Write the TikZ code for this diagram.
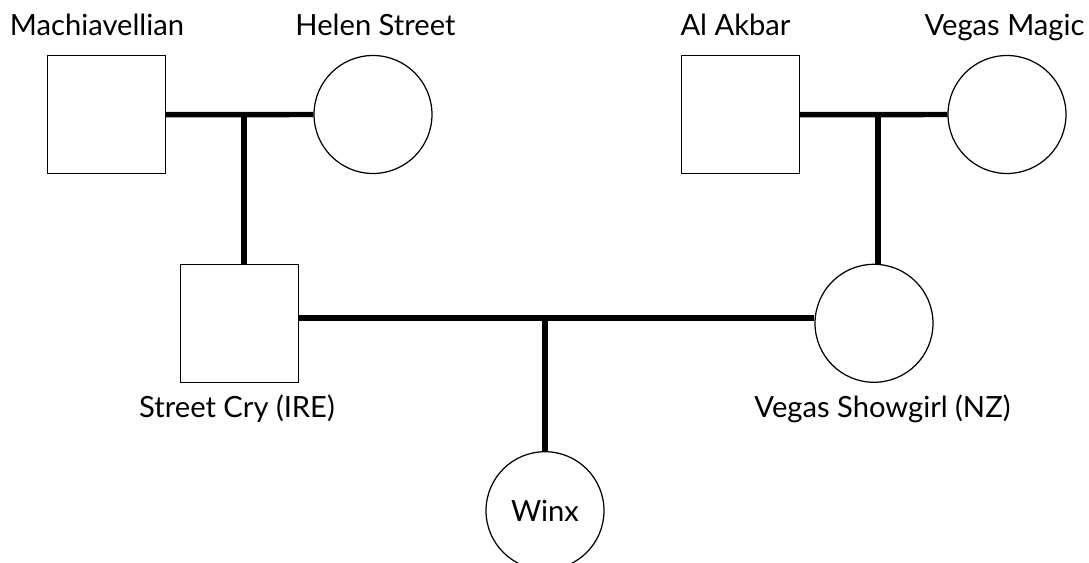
\documentclass[tikz,border=0pt]{standalone}
\usepackage{fontspec}
\setmainfont{Lato}
\usepackage{tikz}
\tikzstyle{sire}=[%
  draw,
  line width=0.7pt,
  minimum size=2.36cm,
  inner sep=0pt
]
\tikzstyle{dam}=[%
  draw,
  circle,
  line width=0.7pt,
  minimum size=2.36cm,
  inner sep=0pt
]
\tikzstyle{mating}=[line width=3.1pt]

\begin{document}
\begin{tikzpicture}[x=0.02cm, y=-0.02cm, font=\fontsize{16.6}{19}\selectfont]
      \useasboundingbox (0,0) rectangle (1089,563);
      \node[sire] (mach) at (106.5, 114.7) {};
      \node[dam] (helen) at (373, 114.5) {};
      \node[sire] (akbar) at (740.5, 114.7) {};
      \node[dam] (magic) at (1007, 114.5) {};
      \node[sire] (cry) at (239.7, 323.3) {};
      \node[dam] (showgirl) at (874, 323.3) {};
      \node[dam] (winx) at (545, 510.7) {Winx};
      \coordinate (j1) at (244, 114.5);
      \coordinate (j2) at (878, 114.5);
      \coordinate (j3) at (545, 317.8);
      \draw[mating] (mach.east) -- (helen.west);
      \draw[mating] (j1) -- (j1 |- cry.north);
      \draw[mating] (akbar.east) -- (magic.west);
      \draw[mating] (j2) -- (j2 |- showgirl.north);
      \draw[mating] (cry.east |- j3) -- (showgirl.west |- j3);
      \draw[mating] (j3) -- (winx.north);
      \foreach \name/\txt/\x/\y in {lmach/Machiavellian/97/36, lhelen/Helen Street/375.5/36,
          lakbar/Al Akbar/735.5/36, lmagic/Vegas Magic/1004.5/36,
          lcry/Street Cry (IRE)/237/418, lshowgirl/Vegas Showgirl (NZ)/882.5/418} {%
        \node[anchor=base, inner sep=0pt] (\name) at (\x, \y) {\txt};
      }
    \end{tikzpicture}
\end{document}
